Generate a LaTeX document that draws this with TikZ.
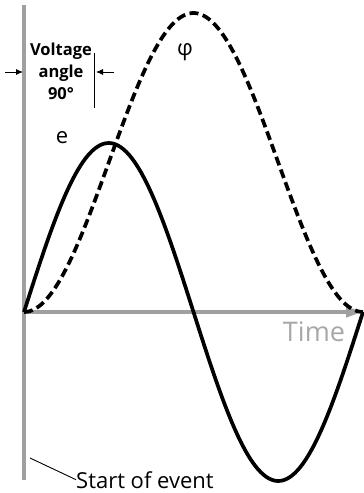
\documentclass[tikz,border=0pt]{standalone}
\usepackage{fontspec}
\setmainfont{Open Sans}
\usetikzlibrary{arrows.meta}
\definecolor{axisgray}{HTML}{A0A0A0}
\definecolor{textgray}{HTML}{A8A8A8}
\begin{document}
\begin{tikzpicture}[x=1pt,y=-1pt,
  axisline/.style={axisgray,line width=4pt},
  curve/.style={black,line width=3.7pt},
  dimarrow/.style={black,line width=0.8pt,-{Latex[length=7pt,width=6pt]}},
  lbl/.style={inner sep=0pt,font=\fontsize{22}{24}\selectfont}]
\useasboundingbox (0,0) rectangle (364,493);
% axes
\draw[axisline] (24,5) -- (24,480);
\coordinate (origin) at (24,312);
\coordinate (tend) at (363,312);
\draw[axisline,-{Triangle[length=17pt,width=10pt]}] (origin) -- (tend);
% curves
\draw[curve,dash pattern=on 9pt off 4.5pt] plot[domain=0:360,samples=120,smooth] ({24+\x*0.94167},{312-149.5*(1-cos(\x))});
\draw[curve] plot[domain=0:360,samples=120,smooth] ({24+\x*0.94167},{312-169*sin(\x)});
% labels
\node[lbl] (phi) at (185,52) {φ};
\node[lbl] (e) at (62,138) {e};
\node[inner sep=0pt,text=textgray,font=\fontsize{27}{30}\selectfont] (time) at (314,332) {Time};
\node[inner sep=0pt,align=center,font=\bfseries\fontsize{16.5}{22}\selectfont] (va) at (61,71) {Voltage\\angle\\90°};
% dimension marks
\coordinate (vtop) at (94,53);
\coordinate (vbot) at (94,108);
\draw[black,line width=0.7pt] (vtop) -- (vbot);
\coordinate (la) at (5,72);
\coordinate (lb) at (23,72);
\coordinate (ra) at (114,72);
\coordinate (rb) at (96,72);
\draw[dimarrow] (la) -- (lb);
\draw[dimarrow] (ra) -- (rb);
% start of event
\node[inner sep=0pt,anchor=base west,font=\fontsize{22}{24}\selectfont] (soe) at (76,488) {Start of event};
\coordinate (soep) at (30,458);
\draw[black,line width=0.9pt] (soep) -- (soe.west);
\end{tikzpicture}
\end{document}
